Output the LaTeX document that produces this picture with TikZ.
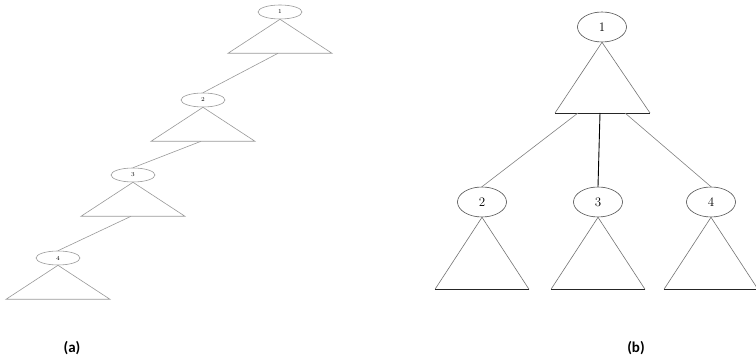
\documentclass[tikz,border=0pt]{standalone}
\usepackage{fontspec}
\newfontfamily\capfont{Carlito}
\usetikzlibrary{shapes.geometric,calc}
\tikzset{
  lnode/.style={ellipse,draw=gray!80,line width=0.6pt,minimum width=44,minimum height=14,inner sep=0pt,font=\fontsize{6}{6}\selectfont},
  rnode/.style={ellipse,draw=black!70,line width=0.6pt,minimum width=49,minimum height=30,inner sep=0pt,font=\fontsize{13}{13}\selectfont},
  ltri/.style={draw=gray!80,line width=0.6pt},
  rtri/.style={draw=black!55,line width=0.6pt},
  caption/.style={font=\capfont\bfseries\fontsize{15}{15}\selectfont}
}
\begin{document}
\begin{tikzpicture}[x=1pt,y=-1pt]
\useasboundingbox (0,0) rectangle (756,363);
% (a): degenerate chain, one subtree hangs below each node
\foreach \i/\x/\y in {1/280/12,2/203/100,3/133/175,4/58/258} {
  \node[lnode] (a\i) at (\x,\y) {\i};
  \draw[ltri] (a\i.south) -- ++(-52,34) -- ++(104,0) -- cycle;
  \coordinate (am\i) at ($(a\i.south)+(-2,34)$);
}
\foreach \i/\j in {1/2,2/3,3/4} { \draw[gray!80,line width=0.6pt] (am\i) -- (a\j.north); }
% (b): root with three subtrees
\node[rnode] (b1) at (602,27) {1};
\draw[rtri] (b1.south) -- (555,113); \draw[rtri] (b1.south) -- (650,113);
\draw[black!85,line width=0.7pt] (555,113) -- (650,113);
\coordinate (bl) at (578,113); \coordinate (bm) at (600,113); \coordinate (br) at (625,113);
\foreach \i/\x in {2/482,3/598,4/711} {
  \node[rnode] (b\i) at (\x,202) {\i};
  \draw[rtri] (b\i.south) -- ++(-47,72); \draw[rtri] (b\i.south) -- ++(47,72);
  \draw[black!85,line width=0.7pt] ($(b\i.south)+(-47,72)$) -- ++(94,0);
}
\draw[gray,line width=0.6pt] (bl) -- (b2.north);
\draw[black,line width=0.9pt] (bm) -- (b3.north);
\draw[gray,line width=0.6pt] (br) -- (b4.north);
\node[caption] (capa) at (72,348) {(a)};
\node[caption] (capb) at (636,348) {(b)};
\end{tikzpicture}
\end{document}
